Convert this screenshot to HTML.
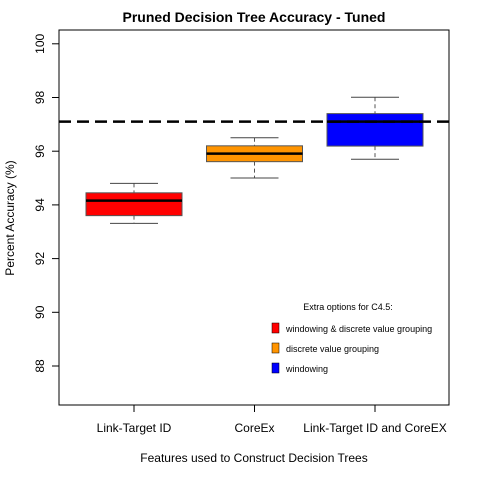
<!DOCTYPE html>
<html><head><meta charset="utf-8"><style>
body{margin:0;background:#fff}
text{font-family:"Liberation Sans",Arial,sans-serif}
</style></head><body>
<svg id="chart" width="480" height="480" xmlns="http://www.w3.org/2000/svg">
<rect width="480" height="480" fill="#fff"/>
<text x="254" y="22" text-anchor="middle" font-size="14" font-weight="bold">Pruned Decision Tree Accuracy - Tuned</text>
<rect x="59" y="30" width="390" height="375" fill="none" stroke="#000" stroke-width="1"/>
<g id="yaxis"></g>
<g id="xaxis"></g>
<g id="boxes"></g>
<text transform="translate(14,218) rotate(-90)" text-anchor="middle" font-size="12">Percent Accuracy (%)</text>
<text x="254" y="462" text-anchor="middle" font-size="12">Features used to Construct Decision Trees</text>
<g font-size="9">
<text x="348" y="310" text-anchor="middle">Extra options for C4.5:</text>
<g><rect x="272" y="323" width="7" height="10" fill="#ff0000" stroke="#000" stroke-width="0.5"/><text x="286" y="332">windowing &amp; discrete value grouping</text></g>
<g><rect x="272" y="343" width="7" height="10" fill="#ff9400" stroke="#000" stroke-width="0.5"/><text x="286" y="352">discrete value grouping</text></g>
<g><rect x="272" y="363" width="7" height="10" fill="#0000ff" stroke="#000" stroke-width="0.5"/><text x="286" y="372">windowing</text></g>
</g>
</svg>
<script>
const categories=["Link-Target ID","CoreEx","Link-Target ID and CoreEX"];
const colors=["#ff0000","#ff9400","#0000ff"];
const mins=[93.31,95.00,95.70];
const q1s=[93.60,95.61,96.19];
const medians=[94.16,95.91,97.10];
const q3s=[94.45,96.20,97.40];
const maxs=[94.80,96.50,98.01];
const refLine=97.1;
const yTicks=[88,90,92,94,96,98,100];
const NS="http://www.w3.org/2000/svg";
function y(v){return 366-(v-88)*26.85;}
function x(i){return 134+i*120.5;}
function mk(tag,attrs,parent){const e=document.createElementNS(NS,tag);for(const k in attrs)e.setAttribute(k,attrs[k]);parent.appendChild(e);return e;}
const ya=document.getElementById('yaxis');
mk('line',{x1:59,x2:59,y1:y(88),y2:y(100),stroke:'#000'},ya);
yTicks.forEach(t=>{
 const l=mk('line',{x1:52,x2:59,y1:y(t),y2:y(t),stroke:'#000'},ya);
 
 
 const tx=mk('text',{transform:`translate(44,${y(t)}) rotate(-90)`,'text-anchor':'middle','font-size':'12'},ya);
 tx.textContent=t;
 
 
});
const xa=document.getElementById('xaxis');
categories.forEach((c,i)=>{
 const l=mk('line',{x1:x(i),x2:x(i),y1:405,y2:412,stroke:'#000'},xa);
 
 
 const tx=mk('text',{x:x(i),y:432,'text-anchor':'middle','font-size':'12'},xa);
 tx.textContent=c;
 
 
});
const bx=document.getElementById('boxes');
const hw=48,cw=24;
categories.forEach((c,i)=>{
 const g=mk('g',{},bx);
 
 
 const cx=x(i);
 mk('line',{x1:cx,x2:cx,y1:y(maxs[i]),y2:y(q3s[i]),stroke:'#555','stroke-dasharray':'4,3'},g);
 mk('line',{x1:cx,x2:cx,y1:y(q1s[i]),y2:y(mins[i]),stroke:'#555','stroke-dasharray':'4,3'},g);
 mk('line',{x1:cx-cw,x2:cx+cw,y1:y(maxs[i]),y2:y(maxs[i]),stroke:'#444'},g);
 mk('line',{x1:cx-cw,x2:cx+cw,y1:y(mins[i]),y2:y(mins[i]),stroke:'#444'},g);
 mk('rect',{x:cx-hw,y:y(q3s[i]),width:hw*2,height:y(q1s[i])-y(q3s[i]),fill:colors[i],stroke:'#555'},g);
 mk('line',{x1:cx-hw,x2:cx+hw,y1:y(medians[i]),y2:y(medians[i]),stroke:'#000','stroke-width':2.5},g);
});
const rl=mk('line',{x1:59,x2:449,y1:y(refLine),y2:y(refLine),stroke:'#000','stroke-width':2.5,'stroke-dasharray':'12,6'},bx);


</script>
</body></html>
